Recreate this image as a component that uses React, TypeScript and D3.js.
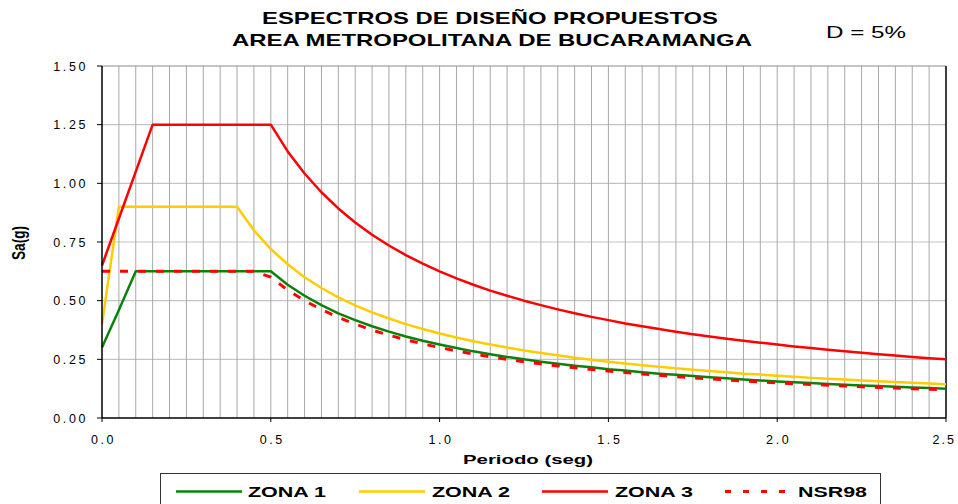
import * as d3 from 'd3';

const PERIODS = [
  0.0, 0.05, 0.1, 0.15, 0.2, 0.25, 0.3, 0.35, 0.4, 0.45,
  0.5, 0.55, 0.6, 0.65, 0.7, 0.75, 0.8, 0.85, 0.9, 0.95,
  1.0, 1.05, 1.1, 1.15, 1.2, 1.25, 1.3, 1.35, 1.4, 1.45,
  1.5, 1.55, 1.6, 1.65, 1.7, 1.75, 1.8, 1.85, 1.9, 1.95,
  2.0, 2.05, 2.1, 2.15, 2.2, 2.25, 2.3, 2.35, 2.4, 2.45, 2.5,
];

const ZONA_1 = [
  0.30, 0.46, 0.625, 0.625, 0.625, 0.625, 0.625, 0.625, 0.625, 0.625,
  0.625, 0.568, 0.521, 0.481, 0.446, 0.417, 0.391, 0.368, 0.347, 0.329,
  0.313, 0.298, 0.284, 0.272, 0.260, 0.250, 0.240, 0.231, 0.223, 0.216,
  0.208, 0.202, 0.195, 0.189, 0.184, 0.179, 0.174, 0.169, 0.164, 0.160,
  0.156, 0.152, 0.149, 0.145, 0.142, 0.139, 0.136, 0.133, 0.130, 0.128, 0.125,
];

const ZONA_2 = [
  0.40, 0.90, 0.90, 0.90, 0.90, 0.90, 0.90, 0.90, 0.90, 0.80,
  0.72, 0.655, 0.60, 0.554, 0.514, 0.48, 0.45, 0.424, 0.40, 0.379,
  0.36, 0.343, 0.327, 0.313, 0.30, 0.288, 0.277, 0.267, 0.257, 0.248,
  0.24, 0.232, 0.225, 0.218, 0.212, 0.206, 0.20, 0.195, 0.189, 0.185,
  0.18, 0.176, 0.171, 0.167, 0.164, 0.16, 0.157, 0.153, 0.15, 0.147, 0.144,
];

const ZONA_3 = [
  0.65, 0.85, 1.05, 1.25, 1.25, 1.25, 1.25, 1.25, 1.25, 1.25,
  1.25, 1.136, 1.042, 0.962, 0.893, 0.833, 0.781, 0.735, 0.694, 0.658,
  0.625, 0.595, 0.568, 0.543, 0.521, 0.50, 0.481, 0.463, 0.446, 0.431,
  0.417, 0.403, 0.391, 0.379, 0.368, 0.357, 0.347, 0.338, 0.329, 0.321,
  0.313, 0.305, 0.298, 0.291, 0.284, 0.278, 0.272, 0.266, 0.260, 0.255, 0.25,
];

const NSR98 = [
  0.625, 0.625, 0.625, 0.625, 0.625, 0.625, 0.625, 0.625, 0.625, 0.625,
  0.60, 0.545, 0.50, 0.462, 0.429, 0.40, 0.375, 0.353, 0.333, 0.316,
  0.30, 0.286, 0.273, 0.261, 0.25, 0.24, 0.231, 0.222, 0.214, 0.207,
  0.20, 0.194, 0.188, 0.182, 0.176, 0.171, 0.167, 0.162, 0.158, 0.154,
  0.15, 0.146, 0.143, 0.140, 0.136, 0.133, 0.130, 0.128, 0.125, 0.122, 0.12,
];

const X_TICKS = [0, 0.5, 1.0, 1.5, 2.0, 2.5];
const Y_TICKS = [0, 0.25, 0.5, 0.75, 1.0, 1.25, 1.5];
const X_GRID = PERIODS;

const SERIES = [
  { name: 'ZONA 1', values: ZONA_1, color: '#0a820a', dash: null },
  { name: 'ZONA 2', values: ZONA_2, color: '#ffcc00', dash: null },
  { name: 'ZONA 3', values: ZONA_3, color: '#ff0000', dash: null },
  { name: 'NSR98', values: NSR98, color: '#ff0000', dash: '8,10' },
];

const FONT = 'Arial, "Liberation Sans", Helvetica, sans-serif';

export default function App() {
  const width = 958;
  const height = 504;
  const plot = { left: 102, right: 946, top: 66, bottom: 418 };

  const x = d3.scaleLinear().domain([0, 2.5]).range([plot.left, plot.right]);
  const y = d3.scaleLinear().domain([0, 1.5]).range([plot.bottom, plot.top]);

  const line = (vals: number[]) =>
    d3.line<number>()
      .x((_, i) => x(PERIODS[i]))
      .y(d => y(d))(vals) || '';

  const legendItems = [
    { lx: 176, tx: 248 },
    { lx: 359, tx: 432 },
    { lx: 542, tx: 615 },
    { lx: 725, tx: 798 },
  ];

  return (
    <svg width={width} height={height}
      style={{ position: 'absolute', left: 0, top: 0, background: '#fff' }}>
      <rect x={0} y={0} width={width} height={height} fill="#fff" />

      {/* TITLE */}
      <g fontFamily={FONT} fontWeight="bold" fontSize={17} fill="#000" textAnchor="middle">
        <text x={490} y={24} textLength={456} lengthAdjust="spacingAndGlyphs">ESPECTROS DE DISEÑO PROPUESTOS</text>
        <text x={492} y={46} textLength={520} lengthAdjust="spacingAndGlyphs">AREA METROPOLITANA DE BUCARAMANGA</text>
      </g>
      <text x={826} y={38} fontFamily={FONT} fontSize={16} fill="#000"
        textLength={80} lengthAdjust="spacingAndGlyphs">D = 5%</text>

      {/* GRID */}
      {Y_TICKS.slice(1, -1).map(t => (
        <line key={'h' + t} x1={plot.left} x2={plot.right} y1={y(t)} y2={y(t)}
          stroke="#c4c4c4" strokeWidth={1.2} />
      ))}
      {X_GRID.slice(1, -1).map(t => (
        <line key={'v' + t} x1={x(t)} x2={x(t)} y1={plot.top} y2={plot.bottom}
          stroke="#a8a8a8" strokeWidth={1} />
      ))}
      <line x1={plot.left} x2={plot.right} y1={plot.top} y2={plot.top} stroke="#8c8c8c" strokeWidth={1.2} />
      <line x1={plot.right} x2={plot.right} y1={plot.top} y2={plot.bottom} stroke="#000" strokeWidth={1.5} />

      {/* SERIES */}
      {SERIES.map(s => (
        <path key={s.name} d={line(s.values)} fill="none" stroke={s.color}
          strokeWidth={s.dash ? 3 : 2.5} strokeDasharray={s.dash || undefined}
          strokeLinejoin="round" />
      ))}

      {/* AXES */}
      <line x1={plot.left} x2={plot.left} y1={plot.top} y2={plot.bottom} stroke="#000" strokeWidth={1.5} />
      <line x1={plot.left} x2={plot.right} y1={plot.bottom} y2={plot.bottom} stroke="#000" strokeWidth={1.5} />
      {Y_TICKS.map(t => (
        <g key={'yt' + t}>
          <line x1={plot.left - 5} x2={plot.left} y1={y(t)} y2={y(t)} stroke="#000" strokeWidth={1} />
          <text x={88} y={y(t) + 4.5} textAnchor="end" fontFamily={FONT} fontSize={12.5}
            letterSpacing={2.6} fill="#000">{t.toFixed(2)}</text>
        </g>
      ))}
      {X_TICKS.map((t, i) => {
        const last = i === X_TICKS.length - 1;
        return (
          <g key={'xt' + t}>
            <line x1={x(t)} x2={x(t)} y1={plot.bottom} y2={plot.bottom + 4} stroke="#000" strokeWidth={1} />
            <text x={last ? 956 : x(t) + 1.5} y={y(0) + 26} textAnchor={last ? 'end' : 'middle'}
              fontFamily={FONT} fontSize={12.5} letterSpacing={last ? 2 : 2.6} fill="#000">{t.toFixed(1)}</text>
          </g>
        );
      })}

      {/* AXIS TITLES */}
      <text x={528} y={464} textAnchor="middle" fontFamily={FONT} fontWeight="bold" fontSize={13}
        textLength={130} lengthAdjust="spacingAndGlyphs" fill="#000">Periodo (seg)</text>
      <g transform="translate(25,243) rotate(-90)">
        <text x={0} y={0} textAnchor="middle" fontFamily={FONT} fontWeight="bold" fontSize={19}
          textLength={34} lengthAdjust="spacingAndGlyphs" fill="#000">Sa(g)</text>
      </g>

      {/* LEGEND */}
      <rect x={160.5} y={473.5} width={720} height={40} fill="#fff" stroke="#333" strokeWidth={1} />
      {SERIES.map((s, i) => (
        <g key={'lg' + s.name}>
          <line x1={legendItems[i].lx} x2={legendItems[i].lx + 66} y1={491.5} y2={491.5}
            stroke={s.color} strokeWidth={s.dash ? 3 : 2.5} strokeDasharray={s.dash ? '6,12' : undefined} />
          <text x={legendItems[i].tx} y={497} fontFamily={FONT} fontWeight="bold" fontSize={14}
            textLength={s.name === 'NSR98' ? 69 : 78} lengthAdjust="spacingAndGlyphs" fill="#000">{s.name}</text>
        </g>
      ))}
    </svg>
  );
}
